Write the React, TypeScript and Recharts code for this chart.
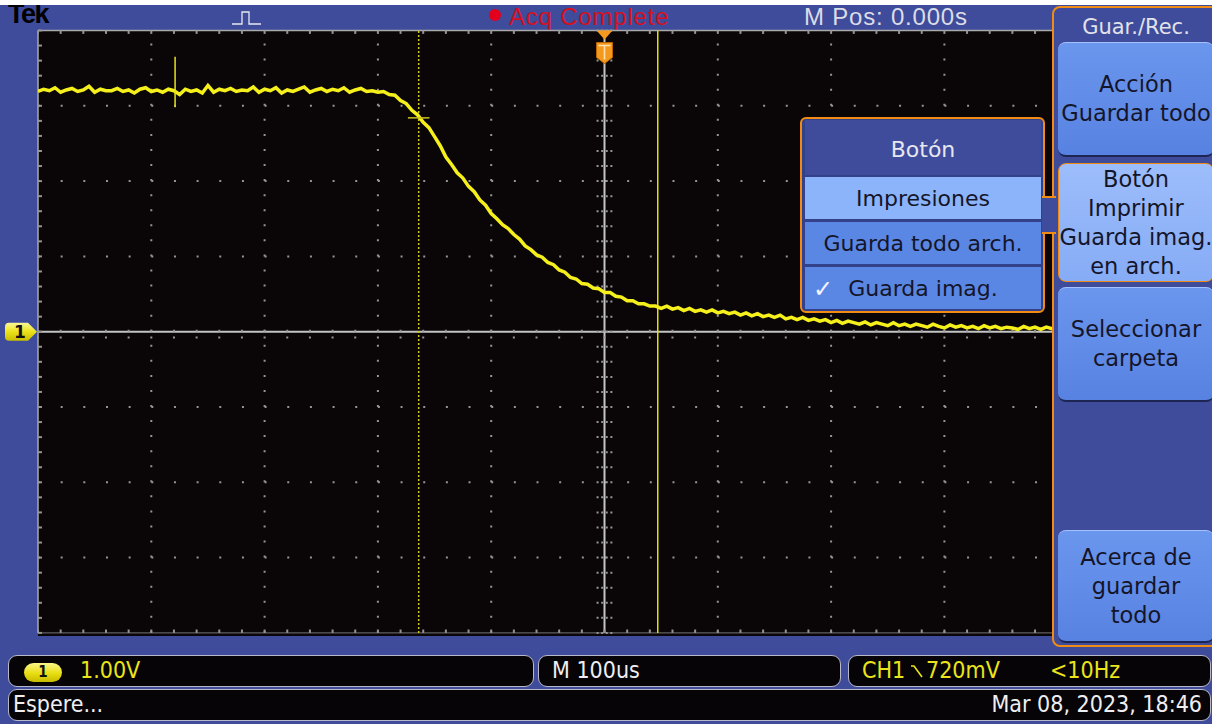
import { LineChart, Line, XAxis, YAxis, ReferenceLine, ReferenceDot } from "recharts";

// scope settings: 100us/div, 1.00V/div, 10 x 8 divisions
const timeDomainUs = [-500, 500];
const voltDomain = [-4, 4];
const majorTimeUs = [-400, -300, -200, -100, 100, 200, 300, 400];
const majorVolts = [-3, -2, -1, 1, 2, 3];
const minorTimeUs = Array.from({ length: 51 }, (_, i) => -500 + i * 20);
const minorVolts = Array.from({ length: 41 }, (_, i) => -4 + i * 0.2);

// CH1 samples, one every 5us starting at -500us
const sampleStartUs = -500;
const sampleStepUs = 5;
const ch1Volts = [
  3.19, 3.22, 3.2, 3.24, 3.18, 3.21, 3.23, 3.19, 3.21, 3.26,
  3.18, 3.22, 3.2, 3.2, 3.23, 3.19, 3.21, 3.17, 3.22, 3.24,
  3.19, 3.21, 3.18, 3.22, 3.2, 3.15, 3.22, 3.19, 3.21, 3.17,
  3.27, 3.18, 3.22, 3.2, 3.23, 3.19, 3.21, 3.2, 3.25, 3.18,
  3.22, 3.2, 3.24, 3.17, 3.21, 3.19, 3.22, 3.25, 3.18, 3.21,
  3.23, 3.19, 3.22, 3.2, 3.24, 3.18, 3.21, 3.23, 3.19, 3.2,
  3.18,
  3.19, 3.15, 3.14, 3.07, 3.03, 2.94, 2.88, 2.78, 2.71, 2.59,
  2.47, 2.32, 2.22, 2.11, 2.04, 1.93, 1.86, 1.75, 1.68, 1.57,
  1.5, 1.42, 1.37, 1.29, 1.23, 1.14, 1.09, 1.02, 0.99, 0.92,
  0.89, 0.82, 0.79, 0.72, 0.7, 0.64, 0.63, 0.58, 0.57, 0.52,
  0.52, 0.47, 0.46, 0.41, 0.41, 0.37, 0.37, 0.34, 0.34,
  0.31, 0.34, 0.3, 0.32, 0.28, 0.31, 0.27, 0.29, 0.26, 0.29, 0.25,
  0.27, 0.24, 0.26, 0.22, 0.25, 0.21, 0.24, 0.2, 0.22, 0.19,
  0.22, 0.17, 0.19, 0.16, 0.19, 0.15, 0.17, 0.14, 0.16, 0.12,
  0.15, 0.11, 0.14, 0.12, 0.1, 0.13, 0.09, 0.12, 0.1, 0.08,
  0.12, 0.08, 0.1, 0.07, 0.1, 0.08, 0.06, 0.1, 0.07, 0.05,
  0.09, 0.06, 0.08, 0.05, 0.07, 0.04, 0.08, 0.05, 0.07, 0.04,
  0.06, 0.05, 0.03, 0.07, 0.04, 0.06, 0.03, 0.06, 0.04, 0.05,
  0.03, 0.06, 0.04, 0.05, 0.03, 0.06, 0.04, 0.05, 0.03, 0.05,
  0.04, 0.06, 0.03, 0.05, 0.04, 0.05, 0.03, 0.06, 0.04, 0.05,
];

const cursorAUs = -164;
const cursorBUs = 47;
const cursorHitVolts = 2.84;
const glitchUs = -379;
const glitchTop = 3.65;
const glitchBottom = 2.98;

const traceData = ch1Volts.map((v, i) => ({ t: sampleStartUs + i * sampleStepUs, v }));

const BLUE = "#3e4c9b";
const ORANGE = "#f08c14";
const GRID = "#959595";
const YELLOW = "#f5f01c";
const UI = "'DejaVu Sans', 'Noto Sans', sans-serif";
const COND = "'DejaVu Sans Condensed', 'DejaVu Sans', sans-serif";
const TOP = "'Liberation Sans', Arial, sans-serif";

function TriggerMark({ cx, cy }: any) {
  return (
    <g>
      <path d={`M${cx - 8},${cy} L${cx + 8},${cy} L${cx},${cy + 9} Z`} fill="#f39a1e" />
      <path
        d={`M${cx - 8},${cy + 12} h16 v15 l-8,6 l-8,-6 Z`}
        fill="#f39a1e"
        stroke="#b86400"
        strokeWidth={1}
      />
      <path d={`M${cx - 6},${cy + 15} h12 M${cx},${cy + 15} v14`} stroke="#ffe2b0" strokeWidth={1.6} />
    </g>
  );
}

function Ch1Mark({ cx, cy }: any) {
  return (
    <g>
      <defs>
        <linearGradient id="ch1g" x1="0" y1="0" x2="0" y2="1">
          <stop offset="0" stopColor="#fbf79a" />
          <stop offset="0.5" stopColor="#ece21a" />
          <stop offset="1" stopColor="#c9bd00" />
        </linearGradient>
      </defs>
      <path
        d={`M${cx - 29},${cy - 9} L${cx - 10},${cy - 9} L${cx - 1},${cy} L${cx - 10},${cy + 9} L${cx - 29},${cy + 9} Q${cx - 33},${cy + 9} ${cx - 33},${cy + 5} L${cx - 33},${cy - 5} Q${cx - 33},${cy - 9} ${cx - 29},${cy - 9} Z`}
        fill="url(#ch1g)"
      />
      <text x={cx - 18} y={cy + 6} textAnchor="middle" fontFamily={UI} fontWeight="bold" fontSize={17} fill="#111">
        1
      </text>
    </g>
  );
}

function ScopeScreen() {
  return (
    <LineChart
      width={1221}
      height={724}
      data={traceData}
      margin={{ top: 30.5, right: 50, bottom: 91.1, left: 38 }}
      style={{ position: "absolute", left: 0, top: 0 }}
    >
      <XAxis type="number" dataKey="t" domain={timeDomainUs} hide allowDataOverflow />
      <YAxis type="number" domain={voltDomain} hide allowDataOverflow />
      {majorTimeUs.map((t) => (
        <ReferenceLine key={"gx" + t} x={t} stroke={GRID} strokeWidth={2} strokeDasharray="2 13.06" />
      ))}
      {majorVolts.map((v) => (
        <ReferenceLine key={"gy" + v} y={v} stroke={GRID} strokeWidth={2} strokeDasharray="2 20.66" />
      ))}
      <ReferenceLine y={4} stroke="#aaaaaa" strokeWidth={1.5} />
      <ReferenceLine y={-4} stroke="#777777" strokeWidth={1} />
      <ReferenceLine x={-500} stroke="#aaaaaa" strokeWidth={1.5} />
      <ReferenceLine x={0} stroke="#c4c4c4" strokeWidth={2} />
      <ReferenceLine y={0} stroke="#c4c4c4" strokeWidth={2} />
      {minorTimeUs.map((t) => (
        <ReferenceLine
          key={"cx" + t}
          segment={[{ x: t, y: -0.09 }, { x: t, y: 0.09 }]}
          stroke={GRID}
          strokeWidth={2}
          strokeDasharray="2 4.8"
        />
      ))}
      {minorVolts.map((v) => (
        <ReferenceLine
          key={"cy" + v}
          segment={[{ x: -7, y: v }, { x: 7, y: v }]}
          stroke={GRID}
          strokeWidth={2}
          strokeDasharray="2 2.6"
        />
      ))}
      {minorTimeUs.map((t) => (
        <ReferenceLine key={"tt" + t} segment={[{ x: t, y: 4 }, { x: t, y: 3.955 }]} stroke={GRID} strokeWidth={2} />
      ))}
      {minorTimeUs.map((t) => (
        <ReferenceLine key={"bt" + t} segment={[{ x: t, y: -4 }, { x: t, y: -3.955 }]} stroke={GRID} strokeWidth={2} />
      ))}
      {minorVolts.map((v) => (
        <ReferenceLine key={"lt" + v} segment={[{ x: -500, y: v }, { x: -496.5, y: v }]} stroke={GRID} strokeWidth={2} />
      ))}
      <ReferenceLine x={cursorAUs} stroke="#d2c814" strokeWidth={1.5} strokeDasharray="2 2" />
      <ReferenceLine x={cursorBUs} stroke="#e6de00" strokeWidth={1.5} />
      <Line type="linear" dataKey="v" stroke={YELLOW} strokeWidth={3.5} dot={false} isAnimationActive={false} />
      <ReferenceLine
        segment={[{ x: glitchUs, y: glitchTop }, { x: glitchUs, y: glitchBottom }]}
        stroke="#e8e21a"
        strokeWidth={1.5}
      />
      <ReferenceLine
        segment={[{ x: cursorAUs - 9.5, y: cursorHitVolts }, { x: cursorAUs + 9.5, y: cursorHitVolts }]}
        stroke="#c9c020"
        strokeWidth={1.5}
      />
      <ReferenceDot x={0} y={4} r={0} shape={(p: any) => <TriggerMark cx={p.cx} cy={p.cy} />} />
      <ReferenceDot x={-500} y={0} r={0} shape={(p: any) => <Ch1Mark cx={p.cx} cy={p.cy} />} />
    </LineChart>
  );
}

const abs = (left: number, top: number, width: number, height: number, extra: any = {}) => ({
  position: "absolute" as const,
  left,
  top,
  width,
  height,
  boxSizing: "border-box" as const,
  ...extra,
});

const sideBtn = (top: number, height: number, light = false) =>
  abs(1058, top, 156, height, {
    background: light ? "linear-gradient(#9dbdfb, #86acf6)" : "linear-gradient(#6b96ee, #5782e1)",
    borderRadius: 8,
    border: light ? `1.5px solid ${ORANGE}` : "none",
    borderTop: light ? `1.5px solid ${ORANGE}` : "1px solid #a4c2ff",
    borderBottom: light ? `1.5px solid ${ORANGE}` : "2px solid #1d2552",
    color: "#15152a",
    fontFamily: UI,
    fontSize: 22.5,
    lineHeight: "29px",
    display: "flex",
    flexDirection: "column" as const,
    alignItems: "center",
    justifyContent: "center",
    textAlign: "center" as const,
    whiteSpace: "nowrap" as const,
  });

const statusBox = (left: number, top: number, width: number) =>
  abs(left, top, width, 32, {
    background: "#060406",
    border: "1.5px solid #b8b8c8",
    borderRadius: 9,
    fontFamily: COND,
    fontStretch: "condensed",
    fontSize: 23,
    lineHeight: "29px",
  });

const menuItem = (top: number, bg: string) =>
  abs(805, top, 236, 42, {
    background: bg,
    color: "#15152a",
    fontFamily: UI,
    fontSize: 22,
    lineHeight: "44px",
    textAlign: "center" as const,
  });

export default function App() {
  return (
    <div style={{ position: "fixed", left: 0, top: 0, width: 1221, height: 724, background: "#fff", overflow: "hidden" }}>
      <div style={abs(0, 5, 1212, 719, { background: BLUE })} />

      {/* top bar */}
      <div style={abs(8, -1, 60, 30, { fontFamily: TOP, fontWeight: 900, fontSize: 27, color: "#000", letterSpacing: -1.5 })}>
        Tek
      </div>
      <svg style={abs(228, 8, 40, 20)} width={40} height={20}>
        <polyline points="4,16 14,16 14,4 21,4 21,16 33,16" fill="none" stroke="#e8e8f0" strokeWidth={1.3} />
      </svg>
      <div style={abs(489, 9, 12, 12, { background: "#e3001c", borderRadius: 6 })} />
      <div style={abs(509, 3, 200, 28, { fontFamily: TOP, fontSize: 24, color: "#d5101e", letterSpacing: 0.8, whiteSpace: "nowrap" })}>
        Acq Complete
      </div>
      <div style={abs(804, 3, 200, 28, { fontFamily: TOP, fontSize: 24, color: "#dcdce6", letterSpacing: 0.8, whiteSpace: "nowrap" })}>
        M Pos: 0.000s
      </div>

      {/* screen */}
      <div style={abs(38, 30, 1016, 606, { background: "#0a0608" })} />
      <ScopeScreen />

      {/* side menu */}
      <div style={abs(1052, 6, 175, 641, { background: BLUE, border: `2px solid ${ORANGE}`, borderRadius: 8 })} />
      <div style={abs(1058, 12, 156, 30, { fontFamily: UI, fontSize: 21, color: "#e2e2ea", textAlign: "center", lineHeight: "30px" })}>
        Guar./Rec.
      </div>
      <div style={sideBtn(42, 115)}>
        <div>Acción</div>
        <div>Guardar todo</div>
      </div>
      <div style={sideBtn(163, 119, true)}>
        <div>Botón</div>
        <div>Imprimir</div>
        <div>Guarda imag.</div>
        <div>en arch.</div>
      </div>
      <div style={sideBtn(287, 115)}>
        <div>Seleccionar</div>
        <div>carpeta</div>
      </div>
      <div style={sideBtn(530, 113)}>
        <div>Acerca de</div>
        <div>guardar</div>
        <div>todo</div>
      </div>

      {/* pop-up menu */}
      <div style={abs(800, 117, 245, 196, { background: "#33408a", border: `2.5px solid ${ORANGE}`, borderRadius: 6 })} />
      <div style={abs(805, 120, 236, 55, { background: BLUE, color: "#e6e6ee", fontFamily: UI, fontSize: 22, lineHeight: "60px", textAlign: "center" })}>
        Botón
      </div>
      <div style={menuItem(177, "#8cb4fa")}>Impresiones</div>
      <div style={menuItem(222, "#5a87e3")}>Guarda todo arch.</div>
      <div style={menuItem(267, "#5a87e3")}>
        <span style={{ position: "absolute", left: 8, top: 0, color: "#f4f4ff", fontSize: 24 }}>✓</span>
        Guarda imag.
      </div>
      <div style={abs(1042, 196, 14, 38, { background: BLUE, borderTop: `2px solid ${ORANGE}`, borderBottom: `2px solid ${ORANGE}` })} />

      {/* status bars */}
      <div style={statusBox(8, 655, 526)}>
        <div style={abs(15, 7, 38, 19, { background: "linear-gradient(#fbf68a, #e8de12 55%, #c7bb00)", borderRadius: 10, color: "#111", fontFamily: UI, fontSize: 15, fontWeight: "bold", lineHeight: "19px", textAlign: "center" })}>
          1
        </div>
        <span style={{ position: "absolute", left: 71, top: 0, color: "#ece41a" }}>1.00V</span>
      </div>
      <div style={statusBox(538, 655, 303)}>
        <span style={{ position: "absolute", left: 13, top: 0, color: "#eeeef2" }}>M 100us</span>
      </div>
      <div style={statusBox(848, 655, 363)}>
        <span style={{ position: "absolute", left: 13, top: 0, color: "#ece41a", whiteSpace: "nowrap" }}>CH1</span>
        <svg style={{ position: "absolute", left: 61, top: 7 }} width={14} height={16}>
          <polyline points="1,3 4,3 12,14" fill="none" stroke="#ece41a" strokeWidth={1.6} />
        </svg>
        <span style={{ position: "absolute", left: 77, top: 0, color: "#ece41a" }}>720mV</span>
        <span style={{ position: "absolute", left: 201, top: 0, color: "#ece41a" }}>&lt;10Hz</span>
      </div>
      <div style={statusBox(8, 689, 1203)}>
        <span style={{ position: "absolute", left: 4, top: 0, color: "#eeeef2" }}>Espere...</span>
        <span style={{ position: "absolute", right: 8, top: 0, color: "#eeeef2", whiteSpace: "nowrap" }}>Mar 08, 2023, 18:46</span>
      </div>

      {/* white margins of the screenshot */}
      <div style={abs(0, 0, 1221, 5, { background: "#fff" })} />
      <div style={abs(1212, 0, 9, 724, { background: "#fff" })} />
    </div>
  );
}
